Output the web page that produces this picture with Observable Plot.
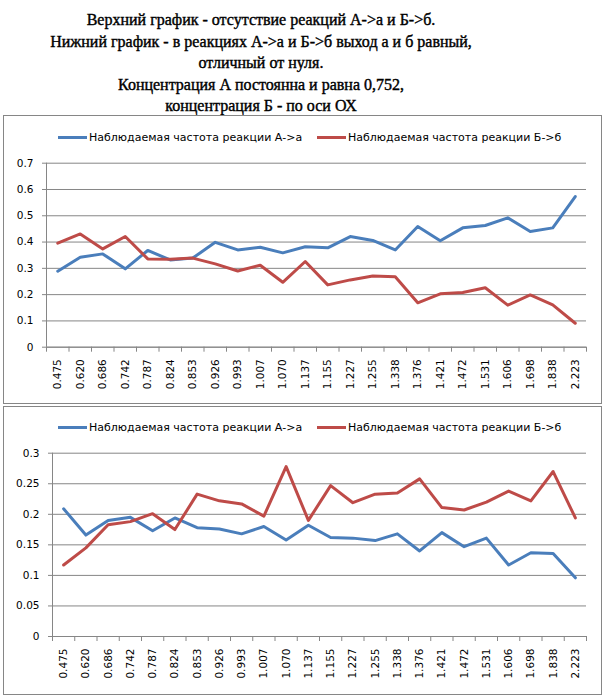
<!DOCTYPE html>
<html><head><meta charset="utf-8">
<script src="https://cdn.jsdelivr.net/npm/d3@7"></script>
<script src="https://cdn.jsdelivr.net/npm/@observablehq/plot@0.6"></script>
<style>
body{margin:0;background:#fff;width:606px;height:697px;position:relative;overflow:hidden}
#title{position:absolute;left:0;top:9px;width:522px;text-align:center;font:16px/21.5px "Liberation Serif",serif;color:#000;-webkit-text-stroke:0.4px #000}
.panel{position:absolute;left:3px;width:599px;height:289px;box-sizing:border-box;border:1px solid #868686;background:#fff}
.legend{position:absolute;font:11px "DejaVu Sans";color:#000;display:flex;align-items:center;white-space:nowrap;height:14px}
.sw{display:inline-block;width:29px;height:3px;margin-right:2px}
.plot{position:absolute;left:0;top:30px}
</style></head><body>
<div id="title">Верхний график - отсутствие реакций А-&gt;а и Б-&gt;б.<br>Нижний график - в реакциях А-&gt;а и Б-&gt;б выход а и б равный,<br>отличный от нуля.<br>Концентрация А постоянна и равна 0,752,<br>концентрация Б - по оси ОХ</div>
<div class="panel" id="p1" style="top:115px"></div>
<div class="panel" id="p2" style="top:406px"></div>
<script>
const concB = ["0.475","0.620","0.686","0.742","0.787","0.824","0.853","0.926","0.993","1.007","1.070","1.137","1.155","1.227","1.255","1.338","1.376","1.421","1.472","1.531","1.606","1.698","1.838","2.223"];
const topA = [0.289,0.342,0.355,0.298,0.368,0.332,0.339,0.399,0.370,0.380,0.359,0.382,0.378,0.421,0.406,0.370,0.459,0.405,0.454,0.463,0.492,0.440,0.454,0.573];
const topB = [0.396,0.431,0.374,0.421,0.336,0.335,0.339,0.317,0.290,0.312,0.247,0.326,0.237,0.256,0.271,0.268,0.169,0.203,0.208,0.226,0.160,0.199,0.161,0.091];
const botA = [0.209,0.166,0.190,0.195,0.173,0.194,0.178,0.176,0.168,0.180,0.158,0.182,0.162,0.161,0.157,0.168,0.140,0.170,0.147,0.161,0.117,0.137,0.136,0.096];
const botB = [0.117,0.145,0.183,0.188,0.201,0.175,0.233,0.222,0.217,0.197,0.278,0.190,0.247,0.219,0.233,0.235,0.258,0.211,0.207,0.220,0.238,0.222,0.270,0.194];
const yTicksTop = [0,0.1,0.2,0.3,0.4,0.5,0.6,0.7];
const yTicksBottom = [0,0.05,0.1,0.15,0.2,0.25,0.3];
const seriesNames = ["Наблюдаемая частота реакции А->а","Наблюдаемая частота реакции Б->б"];
const colors = ["#4A7EBB","#BE4B48"];
const gridColor = "#868686";

function legend(el, top, positions) {
  seriesNames.forEach((name, k) => {
    const d = document.createElement("div");
    d.className = "legend";
    d.style.left = positions[k] + "px";
    d.style.top = top + "px";
    const sw = document.createElement("span");
    sw.className = "sw";
    sw.style.background = colors[k];
    d.appendChild(sw);
    d.appendChild(document.createTextNode(name));
    el.appendChild(d);
  });
}

function chart(el, a, b, yTicks, mLeft, mTop, mBottom) {
  const n = concB.length;
  const idx = d3.range(n);
  const bounds = d3.range(n + 1).map(i => i - 0.5);
  const sA = idx.map(i => ({i, v: a[i]}));
  const sB = idx.map(i => ({i, v: b[i]}));
  const svg = Plot.plot({
    width: 597, height: 257,
    marginLeft: mLeft, marginRight: 15, marginTop: mTop, marginBottom: mBottom,
    style: {fontFamily: "DejaVu Sans", fontSize: "10.5px", color: "#000", background: "transparent", overflow: "visible"},
    x: {type: "linear", domain: [-0.5, n - 0.5], axis: null},
    y: {domain: [0, yTicks[yTicks.length - 1]], axis: null},
    marks: [
      Plot.gridY(yTicks, {stroke: gridColor, strokeOpacity: 1}),
      Plot.axisY(yTicks, {tickSize: 4, tickPadding: 9, tickFormat: d => String(d), stroke: gridColor, label: null}),
      Plot.ruleX([-0.5], {stroke: gridColor}),
      Plot.ruleY([0], {stroke: gridColor}),
      Plot.axisX(bounds, {tickSize: 5, tickFormat: () => "", stroke: gridColor, label: null}),
      Plot.axisX(idx, {tickSize: 0, tickPadding: 12, tickRotate: -90, tickFormat: i => concB[i], label: null}),
      Plot.line(sA, {x: "i", y: "v", stroke: colors[0], strokeWidth: 3}),
      Plot.line(sB, {x: "i", y: "v", stroke: colors[1], strokeWidth: 3})
    ]
  });
  svg.classList.add("plot");
  el.appendChild(svg);
}

const p1 = document.getElementById("p1");
const p2 = document.getElementById("p2");
legend(p1, 14, [54, 313]);
legend(p2, 13, [54, 313]);
chart(p1, topA, topB, yTicksTop, 42, 16.7, 56.3);
chart(p2, botA, botB, yTicksBottom, 48, 15.7, 58);
</script>
</body></html>
